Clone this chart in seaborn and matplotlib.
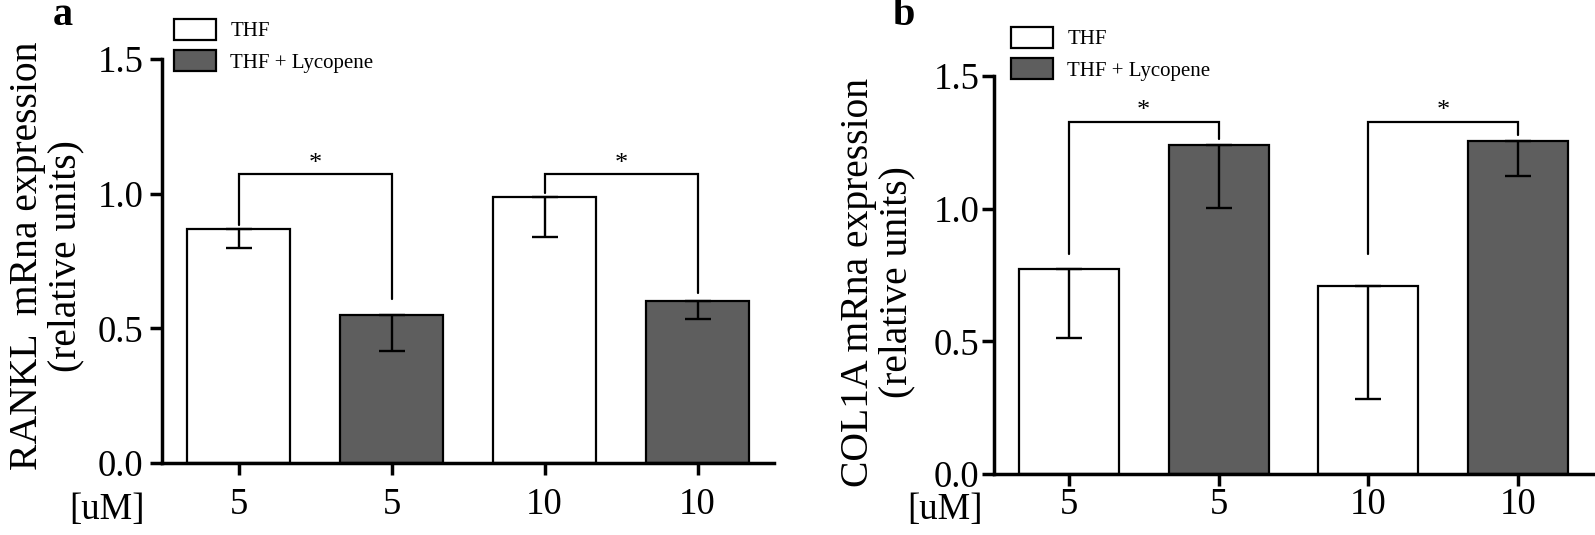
import numpy as np
import pandas as pd
import matplotlib
matplotlib.use("Agg")
import matplotlib.pyplot as plt
import seaborn as sns
from matplotlib.patches import Patch

# ---------------- data ----------------
groups = ["THF", "THF + Lycopene", "THF", "THF + Lycopene"]
doses = ["5", "5", "10", "10"]
legend_labels = ["THF", "THF + Lycopene"]

rankl_mean = [0.868, 0.548, 0.986, 0.601]
rankl_err = [0.068, 0.131, 0.147, 0.066]
col1a_mean = [0.773, 1.240, 0.709, 1.256]
col1a_err = [0.262, 0.236, 0.427, 0.133]

sig_pairs = [(0, 1), (2, 3)]
rankl_br_top = [1.072, 1.072]
rankl_br_left = [0.884, 1.004]
rankl_br_right = [0.608, 0.630]
col1a_br_top = [1.328, 1.328]
col1a_br_left = [0.829, 0.829]
col1a_br_right = [1.261, 1.278]

ylabels = ["RANKL  mRna expression\n(relative units)",
           "COL1A mRna expression\n(relative units)"]
yticks = [0.0, 0.5, 1.0, 1.5]

# ---------------- style ----------------
sns.set_theme(style="ticks")
plt.rcParams["font.family"] = ["Liberation Serif", "DejaVu Serif"]
plt.rcParams["axes.linewidth"] = 2.5
for k in ["text.color", "axes.labelcolor", "axes.edgecolor", "xtick.color", "ytick.color"]:
    plt.rcParams[k] = "black"

palette = {"THF": "#ffffff", "THF + Lycopene": "#5e5e5e"}

fig = plt.figure(figsize=(15.95, 5.35), dpi=100)
W, H = 1595.0, 535.0


def make_axes(left, right, top, bottom):
    return fig.add_axes([left / W, 1 - bottom / H, (right - left) / W, (bottom - top) / H])


ax_a = make_axes(162, 774, 59, 463)
ax_b = make_axes(994, 1593, 76, 474)


def panel(ax, means, errs, br_top, br_left, br_right, ylabel, xpad, ypad, lab_x, lab_y):
    df = pd.DataFrame({"pos": range(len(means)), "value": means, "group": groups})
    sns.barplot(data=df, x="pos", y="value", hue="group", dodge=False,
                palette=palette, width=0.667, edgecolor="black", linewidth=1.6,
                saturation=1, errorbar=None, legend=False, ax=ax, zorder=2)
    pos = np.arange(len(means))
    ax.errorbar(pos, means, yerr=[errs, np.zeros(len(errs))], fmt="none",
                ecolor="black", elinewidth=1.7, capsize=9.5, capthick=1.7, zorder=3)
    for (i, j), t, l, r in zip(sig_pairs, br_top, br_left, br_right):
        ax.plot([i, i, j, j], [l, t, t, r], color="black", lw=1.6,
                solid_joinstyle="miter", zorder=3)
        ax.annotate("*", xy=((i + j) / 2, t), xytext=(0, 3), textcoords="offset points",
                    ha="center", va="baseline", fontsize=19, color="black")
    ax.set_xlim(-0.5, 3.5)
    ax.set_ylim(0, 1.5)
    ax.set_yticks(yticks)
    ax.set_yticklabels([f"{v:.1f}" for v in yticks])
    ax.set_xticks(pos)
    ax.set_xticklabels(doses)
    ax.set_xlabel("")
    ax.set_ylabel(ylabel, fontsize=28.5, linespacing=1.02)
    ax.yaxis.set_label_coords(lab_x, lab_y)
    sns.despine(ax=ax)
    ax.tick_params(axis="both", labelsize=26.5, width=2.5, length=8.5, color="black",
                   labelcolor="black")
    ax.tick_params(axis="x", pad=xpad)
    ax.tick_params(axis="y", pad=ypad)
    ax.set_facecolor("none")


panel(ax_a, rankl_mean, rankl_err, rankl_br_top, rankl_br_left, rankl_br_right,
      ylabels[0], xpad=9, ypad=5, lab_x=(84 - 162) / 612, lab_y=(463 - 256) / 404)
panel(ax_b, col1a_mean, col1a_err, col1a_br_top, col1a_br_left, col1a_br_right,
      ylabels[1], xpad=1, ypad=2, lab_x=(915 - 994) / 599, lab_y=(474 - 282) / 398)

# "[uM]" labels
fig.text(145 / W, 1 - 519 / H, "[uM]", ha="right", va="baseline", fontsize=26.5)
fig.text(983 / W, 1 - 519 / H, "[uM]", ha="right", va="baseline", fontsize=26.5)

# panel letters
fig.text(53 / W, 1 - 25 / H, "a", ha="left", va="baseline", fontsize=29, fontweight="bold")
fig.text(893 / W, 1 - 25 / H, "b", ha="left", va="baseline", fontsize=29, fontweight="bold")

# legends
handles = [Patch(facecolor=palette[g], edgecolor="black", linewidth=1.6) for g in legend_labels]
for lx, ly in [(174, 19), (1011, 27)]:
    fig.legend(handles, legend_labels, loc="upper left", bbox_to_anchor=(lx / W, 1 - ly / H),
               frameon=False, fontsize=15, handlelength=2.0, handleheight=1.15,
               handletextpad=0.7, labelspacing=0.42, borderpad=0, borderaxespad=0)

fig.savefig("out.png", dpi=100, facecolor="white")
